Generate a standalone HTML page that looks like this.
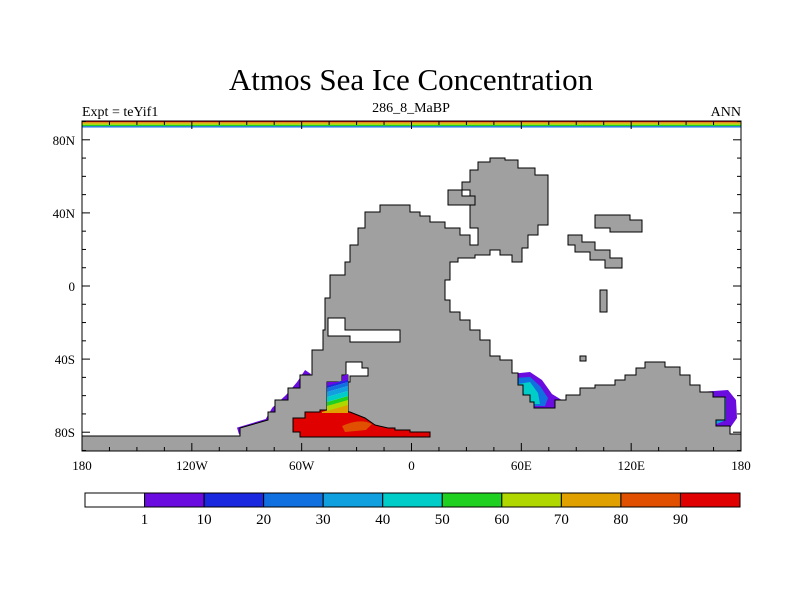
<!DOCTYPE html>
<html><head><meta charset="utf-8"><style>
body{margin:0;background:#fff;width:800px;height:600px;overflow:hidden;font-family:"Liberation Serif",serif}
svg{position:absolute;left:0;top:0}
</style></head><body>
<svg id="c" width="800" height="600">
<text x="411" y="90" font-size="31" text-anchor="middle">Atmos Sea Ice Concentration</text>
<text x="82" y="116" font-size="14">Expt = teYif1</text>
<text x="411" y="112" font-size="14" text-anchor="middle">286_8_MaBP</text>
<text x="741" y="116" font-size="14" text-anchor="end">ANN</text>
<g>
<rect x="82" y="124" width="659" height="327" fill="#fff"/>
<g>
<polyline fill="none" stroke="#6a0ce0" stroke-width="7" points="238,431 268,422 275,410 288,398 300,384 308,372"/>
<path fill="#6a0ce0" d="M510,374 L530,372 542,380 552,394 565,402 566,410 530,410 512,390Z"/>
<path fill="#1070e0" d="M514,378 L530,377 540,386 548,398 545,406 530,406 516,390Z"/>
<path fill="#00ccc8" d="M518,384 L530,382 538,393 540,404 530,404Z"/>
<path fill="#6a0ce0" d="M700,392 L728,390 736,400 737,418 730,428 712,428 700,410Z"/>
<path fill="#10a0e0" d="M710,398 L726,398 726,420 712,426 708,418Z"/>
</g>
<path fill="#a0a0a0" stroke="#000" stroke-width="1" d="M82,436 L240,436 240,428 268,420 268,412 275,412 275,400 288,400 288,388 300,388 300,375 312,375 312,350 323,350 323,330 325,330 325,298 330,298 330,275 345,275 345,262 350,262 350,245 358,245 358,228 365,228 365,212 380,212 380,205 410,205 410,212 420,212 420,216 430,216 430,222 445,222 445,228 460,228 460,235 470,235 470,245 478,245 478,228 470,228 470,215 470,190 462,190 462,182 470,182 470,170 478,170 478,162 490,162 490,158 505,158 505,160 518,160 518,168 535,168 535,175 548,175 548,225 538,225 538,235 528,235 528,248 522,248 522,262 512,262 512,255 500,255 500,250 490,250 490,255 475,255 475,258 458,258 458,262 450,262 450,280 445,280 445,300 450,300 450,312 460,312 460,320 470,320 470,330 480,330 480,340 490,340 490,356 500,356 500,360 512,360 512,373 518,373 518,385 523,385 523,395 530,395 530,402 534,402 534,408 555,408 555,400 566,400 566,395 580,395 580,388 595,388 595,385 615,385 615,380 625,380 625,375 636,375 636,368 645,368 645,362 665,362 665,367 680,367 680,375 690,375 690,385 700,385 700,392 713,392 713,397 725,397 725,420 716,420 716,426 730,426 730,434 741,434 741,451 82,451 Z"/>
<path fill="#fff" stroke="#000" d="M328,318 L345,318 345,330 400,330 400,342 350,342 350,336 328,336 Z"/>
<path fill="#fff" stroke="#000" d="M346,362 L362,362 362,368 368,368 368,376 350,376 350,382 346,382 Z"/>
<path fill="#a0a0a0" stroke="#000" d="M448,190 L462,190 462,196 475,196 475,205 448,205 Z"/>
<path fill="#a0a0a0" stroke="#000" d="M595,215 L630,215 630,220 642,220 642,232 610,232 610,228 595,228 Z"/>
<path fill="#a0a0a0" stroke="#000" d="M568,235 L582,235 582,242 595,242 595,250 610,250 610,258 622,258 622,268 605,268 605,260 590,260 590,252 575,252 575,245 568,245 Z"/>
<rect x="600" y="290" width="7" height="22" fill="#a0a0a0" stroke="#000"/>
<rect x="580" y="356" width="6" height="5" fill="#a0a0a0" stroke="#000"/>
<g>
<path fill="#6a0ce0" stroke="#000" d="M293,418 L305,418 305,412 320,412 320,410 335,410 350,412 365,418 375,425 388,428 395,428 395,430 410,430 410,432 430,432 430,437 300,437 300,432 293,432Z" style="fill:#e00000"/>
<path fill="#e05000" d="M342,426 Q360,418 372,424 L366,430 345,432Z"/>
<path fill="#fff" stroke="#000" d="M327,382 L342,382 342,375 348,375 348,412 327,412Z"/>
<path fill="#e0a000" d="M322,412 L348,404 348,413 322,413Z"/>
<path fill="#b0d800" d="M327,406 L348,399 348,405 327,411Z"/>
<path fill="#20d020" d="M327,402 L348,396 348,400 327,406Z"/>
<path fill="#00ccc8" d="M327,397 L348,391 348,396 327,402Z"/>
<path fill="#10a0e0" d="M327,392 L348,386 348,391 327,397Z"/>
<path fill="#1070e0" d="M327,388 L348,382 348,386 327,392Z"/>
<path fill="#1a28e0" d="M327,385 L348,379 348,382 327,388Z"/>
<path fill="#6a0ce0" d="M342,382 L342,376 348,374 348,380 327,386 327,382Z"/>
</g>
<g>
<rect x="82" y="121" width="659" height="1.3" fill="#e00000"/>
<rect x="82" y="122.3" width="659" height="1.3" fill="#e0a000"/>
<rect x="82" y="123.6" width="659" height="1.3" fill="#b0d800"/>
<rect x="82" y="124.9" width="659" height="1.3" fill="#20d020"/>
<rect x="82" y="126.2" width="659" height="1.3" fill="#1070e0"/>
</g>
<rect x="82" y="121" width="659" height="330" fill="none" stroke="#000"/>
</g>
<g id="axes"></g>
<g id="cbar"></g>
</svg>
<script>
const lonTicks=[-180,-120,-60,0,60,120,180];
const lonLabels=["180","120W","60W","0","60E","120E","180"];
const latTicks=[80,40,0,-40,-80];
const latLabels=["80N","40N","0","40S","80S"];
const levels=[1,10,20,30,40,50,60,70,80,90];
const levelColors=["#ffffff","#6a0ce0","#1a28e0","#1070e0","#10a0e0","#00ccc8","#20d020","#b0d800","#e0a000","#e05000","#e00000"];
const NS="http://www.w3.org/2000/svg";
const x=l=>82+(l+180)*659/360;
const y=l=>286-l*1.8275;
function mk(t,a,p){const e=document.createElementNS(NS,t);for(const k in a)e.setAttribute(k,a[k]);p.appendChild(e);return e;}
const ax=document.getElementById('axes');
for(let l=-180;l<=180;l+=15){const major=l%60===0;const len=major?8:4;
const t1=mk('line',{x1:x(l),x2:x(l),y1:451,y2:451-len,stroke:'#000'},ax);


const t2=mk('line',{x1:x(l),x2:x(l),y1:121,y2:121+len,stroke:'#000'},ax);

}
for(let l=-90;l<=90;l+=10){const major=l%40===0&&Math.abs(l)<=80;const len=major?8:4;
const t1=mk('line',{x1:82,x2:82+len,y1:y(l),y2:y(l),stroke:'#000'},ax);


const t2=mk('line',{x1:741,x2:741-len,y1:y(l),y2:y(l),stroke:'#000'},ax);

}
lonTicks.forEach((l,i)=>{const t=mk('text',{x:x(l),y:470,'font-size':13,'text-anchor':'middle'},ax);t.textContent=lonLabels[i];

});
latTicks.forEach((l,i)=>{const t=mk('text',{x:75,y:y(l)+5,'font-size':13,'text-anchor':'end'},ax);t.textContent=latLabels[i];

});
const cb=document.getElementById('cbar');
const bw=(740-85)/levelColors.length;
levelColors.forEach((c,i)=>{const r=mk('rect',{x:85+i*bw,y:493,width:bw,height:14,fill:c,stroke:'#000'},cb);

});
levels.forEach((v,i)=>{const t=mk('text',{x:85+(i+1)*bw,y:524,'font-size':15,'text-anchor':'middle'},cb);t.textContent=v;

});
</script>
</body></html>
